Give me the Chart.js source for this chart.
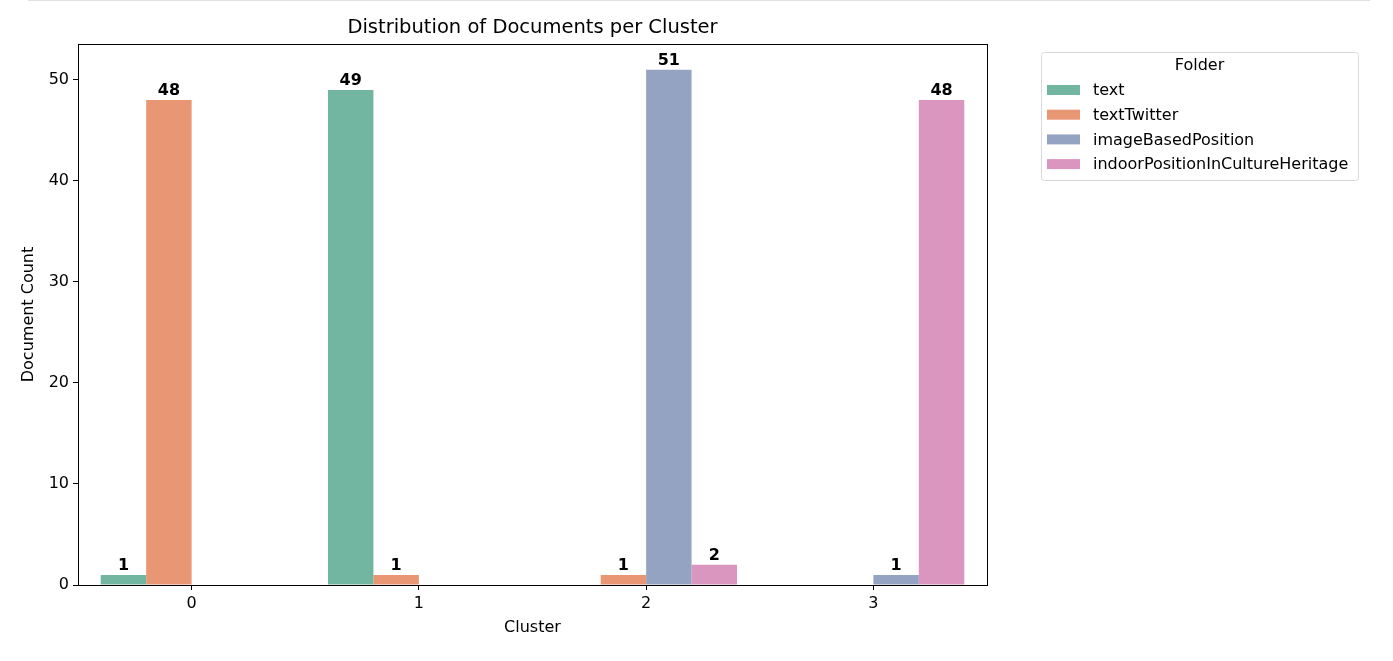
<!DOCTYPE html>
<html>
<head>
<meta charset="utf-8">
<script src="https://cdn.jsdelivr.net/npm/chart.js@4"></script>
<style>
  html, body { margin: 0; padding: 0; background: #fff; }
  #wrap { position: relative; width: 1393px; height: 661px; }
  #topline { position: absolute; left: 28px; top: 0; width: 1342px; height: 1px; background: #e0e0e0; }
</style>
</head>
<body>
<div id="wrap">
  <div id="topline"></div>
  <canvas id="chart" width="1393" height="661"></canvas>
</div>
<script>
// data
const clusters = ['0', '1', '2', '3'];
const folders = ['text', 'textTwitter', 'imageBasedPosition', 'indoorPositionInCultureHeritage'];
const textCounts = [1, 49, null, null];
const twitterCounts = [48, 1, 1, null];
const imageCounts = [null, null, 51, 1];
const indoorCounts = [null, null, 2, 48];
const yTicks = [0, 10, 20, 30, 40, 50];
const colors = ['#72b6a1', '#e99675', '#95a3c3', '#db96c0'];

const FONT = 'DejaVu Sans, sans-serif';
const seriesData = [textCounts, twitterCounts, imageCounts, indoorCounts];

const decor = {
  id: 'decor',
  afterDraw: (chart) => {
    const ctx = chart.ctx;
    const a = chart.chartArea;
    ctx.save();
    // frame
    ctx.strokeStyle = '#000';
    ctx.lineWidth = 1;
    ctx.strokeRect(a.left + 0.5, a.top + 0.5, a.right - a.left, a.bottom - a.top);

    // title and axis labels
    ctx.fillStyle = '#000';
    ctx.textAlign = 'center';
    ctx.textBaseline = 'middle';
    ctx.font = '19.5px ' + FONT;
    ctx.fillText('Distribution of Documents per Cluster', (a.left + a.right) / 2, 28);
    ctx.font = '16px ' + FONT;
    ctx.fillText('Cluster', (a.left + a.right) / 2, 628);
    ctx.save();
    ctx.translate(29, (a.top + a.bottom) / 2);
    ctx.rotate(-Math.PI / 2);
    ctx.fillText('Document Count', 0, 0);
    ctx.restore();

    // value labels
    ctx.font = 'bold 16px ' + FONT;
    ctx.textBaseline = 'bottom';
    chart.data.datasets.forEach((ds, i) => {
      const meta = chart.getDatasetMeta(i);
      meta.data.forEach((bar, j) => {
        const v = ds.data[j];
        if (v === null || v === undefined) return;
        ctx.fillText(String(v), bar.x, bar.y - 1);
      });
    });

    // legend
    const lx = 1041, ly = 52, lw = 317, lh = 128;
    ctx.strokeStyle = '#d8d8d8';
    ctx.fillStyle = 'rgba(255,255,255,0.8)';
    ctx.beginPath();
    ctx.roundRect(lx + 0.5, ly + 0.5, lw, lh, 3);
    ctx.fill();
    ctx.stroke();
    ctx.fillStyle = '#000';
    ctx.textAlign = 'center';
    ctx.textBaseline = 'middle';
    ctx.font = '16px ' + FONT;
    ctx.fillText('Folder', lx + lw / 2, 66);
    ctx.textAlign = 'left';
    chart.data.datasets.forEach((ds, i) => {
      const y = 90 + i * 24.7;
      ctx.fillStyle = ds.backgroundColor;
      ctx.fillRect(1047, y - 5, 33, 10);
      ctx.fillStyle = '#000';
      ctx.fillText(ds.label, 1093, y + 1);
    });
    ctx.restore();
  },
};

new Chart(document.getElementById('chart'), {
  type: 'bar',
  data: {
    labels: clusters,
    datasets: folders.map((name, i) => ({
      label: name,
      data: seriesData[i],
      backgroundColor: colors[i],
      borderWidth: 0,
      categoryPercentage: 0.8,
      barPercentage: 1.0,
    })),
  },
  options: {
    responsive: false,
    animation: false,
    layout: { padding: { left: 0, top: 44, right: 406, bottom: 0 } },
    plugins: {
      legend: { display: false },
      tooltip: { enabled: false },
    },
    scales: {
      x: {
        afterFit: (s) => { s.height = 76; },
        grid: { display: true, offset: false, drawOnChartArea: false, tickLength: 5, color: '#000' },
        border: { display: false },
        ticks: { color: '#000', font: { family: FONT, size: 16 }, padding: 4 },
      },
      y: {
        min: 0,
        max: 53.55,
        afterFit: (s) => { s.width = 78; },
        afterBuildTicks: (s) => { s.ticks = yTicks.map((v) => ({ value: v })); },
        grid: { display: true, drawOnChartArea: false, tickLength: 5, color: '#000' },
        border: { display: false },
        ticks: { color: '#000', font: { family: FONT, size: 16 }, padding: 4 },
      },
    },
  },
  plugins: [decor],
});
</script>
</body>
</html>
